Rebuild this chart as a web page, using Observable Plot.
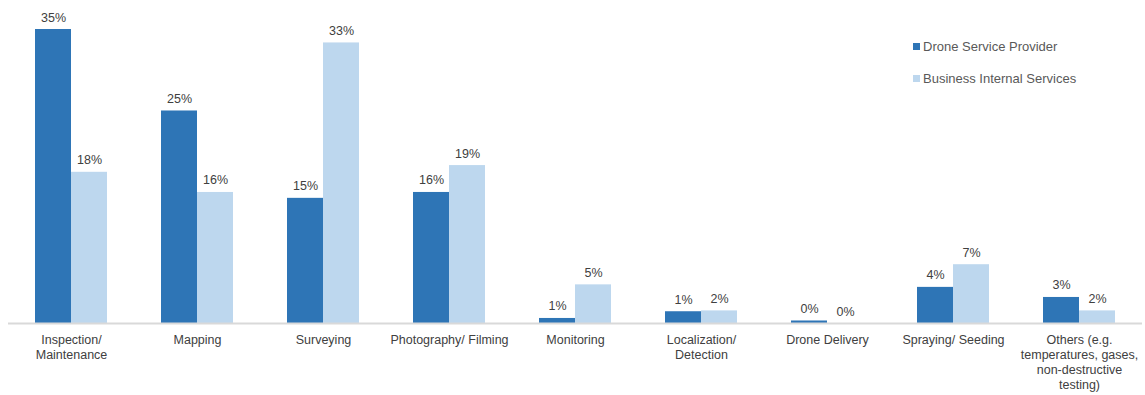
<!DOCTYPE html>
<html><head><meta charset="utf-8">
<script src="https://cdn.jsdelivr.net/npm/d3@7"></script>
<script src="https://cdn.jsdelivr.net/npm/@observablehq/plot@0.6"></script>
<style>
body{margin:0;background:#fff;font-family:"Liberation Sans",Arial,sans-serif;}
#wrap{position:relative;width:1145px;height:395px;}
.legend{position:absolute;left:913px;font-size:13px;color:#595959;display:flex;align-items:center;}
.legend span.sw{display:inline-block;width:7px;height:7px;margin-right:3px;}
</style></head>
<body><div id="wrap"></div>
<script>
const categories = ["Inspection/\nMaintenance","Mapping","Surveying","Photography/ Filming","Monitoring","Localization/\nDetection","Drone Delivery","Spraying/ Seeding","Others (e.g.\ntemperatures, gases,\nnon-destructive\ntesting)"];
const series = ["Drone Service Provider","Business Internal Services"];
const dspValues = [35.0, 25.3, 14.9, 15.6, 0.6, 1.4, 0.3, 4.3, 3.1];
const bisValues = [18.0, 15.6, 33.4, 18.8, 4.6, 1.5, 0.0, 7.0, 1.5];
const colors = ["#2e75b6", "#bdd7ee"];

const data = [];
categories.forEach((c, i) => {
  data.push({cat: c, s: series[0], v: dspValues[i]});
  data.push({cat: c, s: series[1], v: bisValues[i]});
});

const chart = Plot.plot({
  width: 1145, height: 395,
  marginLeft: 8, marginRight: 3, marginTop: 29, marginBottom: 72,
  style: {fontFamily: "Liberation Sans, Arial, sans-serif", fontSize: "12px", color: "#404040"},
  fx: {domain: categories, padding: 0, label: null},
  x: {domain: series, paddingInner: 0, paddingOuter: 0.75, axis: null},
  y: {domain: [0, 35], axis: null},
  color: {domain: series, range: colors},
  marks: [
    Plot.barY(data, {fx: "cat", x: "s", y: "v", fill: "s"}),
    Plot.ruleY([0], {stroke: "#d9d9d9", strokeWidth: 2}),
    Plot.text(data, {fx: "cat", x: "s", y: "v", text: d => Math.round(d.v) + "%", dy: -12, fontSize: 12.5, fill: "#404040"}),
    Plot.axisFx({anchor: "bottom", tickSize: 0, tickPadding: 10, label: null, fontSize: 12.5, lineHeight: 1.2, fill: "#404040"})
  ]
});
const wrap = document.getElementById("wrap");
wrap.appendChild(chart);
series.forEach((s, i) => {
  const d = document.createElement("div");
  d.className = "legend";
  d.style.top = (i === 0 ? 39 : 71) + "px";
  d.innerHTML = `<span class="sw" style="background:${colors[i]}"></span>${s}`;
  wrap.appendChild(d);
});
</script>
</body></html>
